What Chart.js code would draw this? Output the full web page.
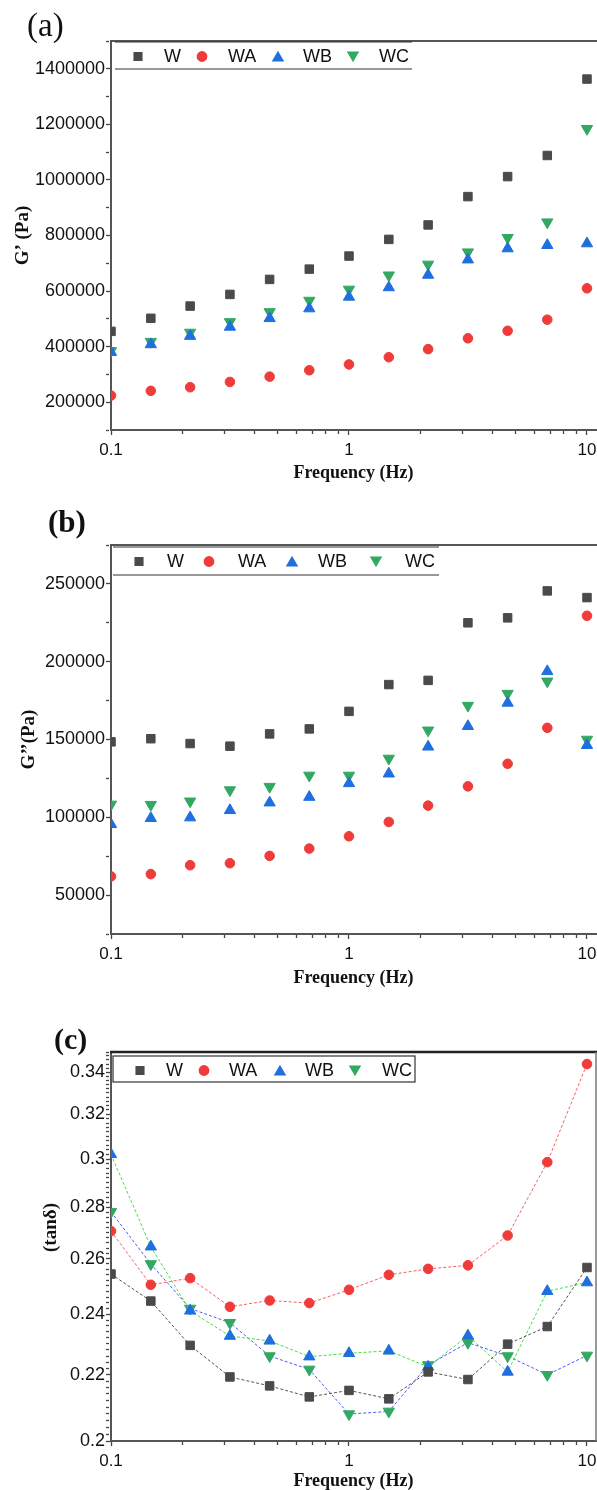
<!DOCTYPE html>
<html>
<head>
<meta charset="utf-8">
<script src="https://cdn.jsdelivr.net/npm/chart.js@4.4.1/dist/chart.umd.min.js"></script>
<style>
  body { margin: 0; background: #fff; width: 597px; height: 1490px; position: relative; overflow: hidden; }
  .pane { position: absolute; left: 0; width: 597px; }
  .tag { position: absolute; font-family: "Liberation Serif", "Times New Roman", serif; color: #111; line-height: 1; }
</style>
</head>
<body>
<div class="pane" style="top:0;height:490px"><canvas id="chartA"></canvas></div>
<div class="pane" style="top:490px;height:510px"><canvas id="chartB"></canvas></div>
<div class="pane" style="top:1000px;height:490px"><canvas id="chartC"></canvas></div>
<div class="tag" style="left:27px;top:9px;font-size:33px">(a)</div>
<div class="tag" style="left:48px;top:506px;font-size:31px;font-weight:bold">(b)</div>
<div class="tag" style="left:54px;top:1024px;font-size:30px;font-weight:bold">(c)</div>
<script>
// frequency sweep (Hz)
const freq = [0.1, 0.147, 0.215, 0.316, 0.464, 0.681, 1, 1.47, 2.15, 3.16, 4.64, 6.81, 10];
const freqTicks = [0.1,0.2,0.3,0.4,0.5,0.6,0.7,0.8,0.9,1,2,3,4,5,6,7,8,9,10];
const freqLabels = [0.1, 1, 10];

// (a) storage modulus G' (Pa)
const gpW  = [455000, 502000, 546000, 588000, 642000, 679000, 726000, 786000, 838000, 940000, 1012000, 1088000, 1363000];
const gpWA = [224000, 241000, 254000, 273000, 292000, 315000, 336000, 362000, 391000, 430000, 457000, 497000, 610000];
const gpWB = [380000, 408000, 438000, 471000, 502000, 537000, 579000, 613000, 658000, 713000, 753000, 765000, 771000];
const gpWC = [385000, 418000, 451000, 489000, 525000, 566000, 606000, 657000, 696000, 740000, 792000, 848000, 1184000];
const gpLabels = [200000, 400000, 600000, 800000, 1000000, 1200000, 1400000];

// (b) loss modulus G'' (Pa)
const gppW  = [148500, 150500, 147400, 145700, 153600, 156800, 168100, 185300, 188000, 225000, 228200, 245500, 241200];
const gppWA = [62000, 63500, 69200, 70500, 75200, 79900, 87800, 97000, 107500, 119900, 134400, 157500, 229500];
const gppWB = [95500, 99400, 99800, 104500, 109400, 113000, 121800, 128000, 145300, 158500, 173500, 193800, 146300];
const gppWC = [108300, 108100, 110300, 117500, 119700, 126900, 126900, 137800, 155900, 171800, 179500, 187400, 150000];
const gppLabels = [50000, 100000, 150000, 200000, 250000];

// (c) loss tangent
const tanW  = [0.2543, 0.2446, 0.2295, 0.2193, 0.2165, 0.2131, 0.2151, 0.2125, 0.2209, 0.2185, 0.2299, 0.2358, 0.2567];
const tanWA = [0.2705, 0.2504, 0.2528, 0.2426, 0.2448, 0.2439, 0.2486, 0.2540, 0.2562, 0.2575, 0.2688, 0.2987, 0.3440];
const tanWB = [0.3021, 0.2645, 0.2412, 0.2326, 0.2310, 0.2258, 0.2269, 0.2277, 0.2225, 0.2327, 0.2209, 0.2481, 0.2512];
const tanWC = [0.2781, 0.2580, 0.2420, 0.2371, 0.2260, 0.2217, 0.2079, 0.2087, 0.2231, 0.2304, 0.2260, 0.2200, 0.2262];
const tanLabels = [0.2, 0.22, 0.24, 0.26, 0.28, 0.3, 0.32, 0.34];

const colW = '#4a4a4a', colWA = '#f03b3b', colWB = '#1f6fde', colWC = '#33a862';

Chart.defaults.font.family = '"Liberation Sans", Arial, sans-serif';
Chart.defaults.color = '#111';
Chart.defaults.animation = false;

const pts = (ys) => freq.map((x, i) => ({x: x, y: ys[i]}));
const near = (v, list) => list.some(t => Math.abs(t - v) < 1e-9 * Math.max(1, Math.abs(t)));

function series(label, ys, color, style, lineColor) {
    return {
        label: label,
        data: pts(ys),
        pointStyle: style === 'down' ? 'triangle' : style,
        rotation: style === 'down' ? 180 : 0,
        pointRadius: style === 'circle' ? 4.8 : (style === 'rect' ? 6 : 6.5),
        pointBackgroundColor: color,
        pointBorderColor: color,
        pointBorderWidth: 1,
        borderColor: lineColor || color,
        borderWidth: 1,
        borderDash: [3, 2],
        showLine: !!lineColor,
        tension: 0
    };
}

// frame lines on top and legend drawn inside the plot, like the Origin figure
const frameLegend = {
    id: 'frameLegend',
    afterDraw(chart, args, o) {
        const ctx = chart.ctx, a = chart.chartArea;
        ctx.save();
        ctx.strokeStyle = o.frameColor;
        ctx.lineWidth = o.frameWidth;
        ctx.beginPath();
        ctx.moveTo(a.left - 1, a.top);
        ctx.lineTo(chart.width, a.top);
        ctx.stroke();
        if (o.rightEdge) {
            ctx.lineWidth = 1.5;
            ctx.strokeStyle = '#777';
            ctx.beginPath();
            ctx.moveTo(a.right, a.top);
            ctx.lineTo(a.right, a.bottom);
            ctx.stroke();
        }
        // legend
        ctx.strokeStyle = '#333';
        ctx.lineWidth = 1.2;
        if (o.box) {
            ctx.strokeRect(o.x0, o.top, o.x1 - o.x0, o.bottom - o.top);
        } else {
            ctx.beginPath();
            ctx.moveTo(o.x0, o.top); ctx.lineTo(o.x1, o.top);
            ctx.moveTo(o.x0, o.bottom); ctx.lineTo(o.x1, o.bottom);
            ctx.stroke();
        }
        chart.data.datasets.forEach((ds, i) => {
            ctx.fillStyle = ds.pointBackgroundColor;
            ctx.strokeStyle = ds.pointBackgroundColor;
            Chart.helpers.drawPoint(ctx, {
                pointStyle: ds.pointStyle,
                rotation: ds.rotation,
                radius: ds.pointStyle === 'circle' ? 4.8 : (ds.pointStyle === 'rect' ? 5.6 : 6),
                borderWidth: 1
            }, o.marks[i], o.y + (ds.pointStyle === 'triangle' ? (ds.rotation ? -1.5 : 1.5) : 0));
            ctx.fillStyle = '#111';
            ctx.font = '18px "Liberation Sans", Arial, sans-serif';
            ctx.textAlign = 'left';
            ctx.textBaseline = 'middle';
            ctx.fillText(ds.label, o.texts[i], o.y + 1);
        });
        ctx.restore();
    }
};

function makeOptions(p) {
    return {
        responsive: true,
        maintainAspectRatio: false,
        layout: { autoPadding: false, padding: { top: p.top, right: 1, left: 0, bottom: 0 } },
        scales: {
            x: {
                type: 'logarithmic',
                min: 0.1,
                max: 10.91,
                afterBuildTicks: (s) => { s.ticks = freqTicks.map(v => ({value: v})); },
                afterFit: (s) => { s.height = p.xHeight; s.paddingRight = 0; s.paddingLeft = 0; },
                border: { display: true, color: '#555', width: 2 },
                grid: {
                    drawOnChartArea: false,
                    color: '#444',
                    tickLength: 5,
                    tickWidth: 1.3,
                    tickBorderDash: (c) => near(c.tick.value, freqLabels) ? [] : [3, 20]
                },
                ticks: {
                    autoSkip: false,
                    maxRotation: 0,
                    padding: 5,
                    font: { size: 17 },
                    callback: (v) => near(v, freqLabels) ? String(v) : ''
                },
                title: {
                    display: true,
                    text: 'Frequency (Hz)',
                    font: { family: '"Liberation Serif", "Times New Roman", serif', size: 18, weight: 'bold', lineHeight: 1 },
                    padding: { top: 0, bottom: p.xTitlePad }
                }
            },
            y: p.y
        },
        plugins: {
            legend: { display: false },
            tooltip: { enabled: false },
            frameLegend: p.legend
        }
    };
}

function yLinear(min, max, step, labels, title, titlePad) {
    return {
        type: 'linear',
        min: min,
        max: max,
        afterFit: (s) => { s.width = 111; },
        border: { display: true, color: '#555', width: 2 },
        grid: {
            drawOnChartArea: false,
            color: '#444',
            tickLength: 5,
            tickWidth: 1.3,
            tickBorderDash: (c) => near(c.tick.value, labels) ? [] : [3, 20]
        },
        ticks: {
            stepSize: step,
            autoSkip: false,
            padding: 1,
            font: { size: 18 },
            callback: (v) => near(v, labels) ? String(v) : ''
        },
        title: {
            display: true,
            text: title,
            font: { family: '"Liberation Serif", "Times New Roman", serif', size: 19, weight: 'bold', lineHeight: 1 },
            padding: { top: titlePad, bottom: 0 }
        }
    };
}

// (a) G'
const ctxA = document.getElementById('chartA');
const chartA = new Chart(ctxA, {
    type: 'scatter',
    data: {
        datasets: [
            series('W', gpW, colW, 'rect'),
            series('WA', gpWA, colWA, 'circle'),
            series('WB', gpWB, colWB, 'triangle'),
            series('WC', gpWC, colWC, 'down')
        ]
    },
    options: makeOptions({
        top: 41, xHeight: 60, xTitlePad: 8,
        y: yLinear(100000, 1500000, 100000, gpLabels, 'G\u2019 (Pa)', 14),
        legend: { frameColor: '#555', frameWidth: 2, box: false, x0: 115, x1: 412, top: 42, bottom: 69, y: 56.5,
                  marks: [138, 202, 278, 353], texts: [164, 228, 303, 379] }
    }),
    plugins: [frameLegend]
});

// (b) G''
const ctxB = document.getElementById('chartB');
const chartB = new Chart(ctxB, {
    type: 'scatter',
    data: {
        datasets: [
            series('W', gppW, colW, 'rect'),
            series('WA', gppWA, colWA, 'circle'),
            series('WB', gppWB, colWB, 'triangle'),
            series('WC', gppWC, colWC, 'down')
        ]
    },
    options: makeOptions({
        top: 55, xHeight: 66, xTitlePad: 13,
        y: yLinear(25000, 275000, 25000, gppLabels, 'G\u2019\u2019(Pa)', 20),
        legend: { frameColor: '#555', frameWidth: 2, box: false, x0: 113, x1: 439, top: 57, bottom: 85, y: 71.5,
                  marks: [139, 209, 292, 376], texts: [167, 238, 318, 405] }
    }),
    plugins: [frameLegend]
});

// (c) tan delta, log y axis; connecting lines of WB/WC use each other's colour as in the figure
const ctxC = document.getElementById('chartC');
const chartC = new Chart(ctxC, {
    type: 'scatter',
    data: {
        datasets: [
            series('W', tanW, colW, 'rect', '#555555'),
            series('WA', tanWA, colWA, 'circle', '#ff5a5a'),
            series('WB', tanWB, colWB, 'triangle', '#3fe03f'),
            series('WC', tanWC, colWC, 'down', '#4a5cff')
        ]
    },
    options: makeOptions({
        top: 52, xHeight: 49, xTitlePad: 0,
        y: {
            type: 'logarithmic',
            min: 0.2,
            max: 0.35,
            afterBuildTicks: (s) => {
                const t = [];
                for (let k = 0; k <= 75; k++) t.push({value: +(0.2 + k * 0.002).toFixed(3)});
                s.ticks = t;
            },
            afterFit: (s) => { s.width = 111; },
            border: { display: true, color: '#555', width: 2 },
            grid: {
                drawOnChartArea: false,
                color: '#444',
                tickLength: 5,
                tickWidth: 1.3,
                tickBorderDash: (c) => near(c.tick.value, tanLabels) ? [] : [3, 20]
            },
            ticks: {
                autoSkip: false,
                padding: 1,
                font: { size: 18 },
                callback: (v) => near(v, tanLabels) ? String(v) : ''
            },
            title: {
                display: true,
                text: '\u00a0\u00a0\u00a0\u00a0\u00a0\u00a0\u00a0\u00a0(tan\u03b4)',
                font: { family: '"Liberation Serif", "Times New Roman", serif', size: 19, weight: 'bold', lineHeight: 1 },
                padding: { top: 42, bottom: 0 }
            }
        },
        legend: { frameColor: '#222', frameWidth: 2.5, rightEdge: true, box: true, x0: 113, x1: 415, top: 56, bottom: 82, y: 70.5,
                  marks: [140, 204, 280, 355], texts: [166, 229, 305, 382] }
    }),
    plugins: [frameLegend]
});
</script>
</body>
</html>
